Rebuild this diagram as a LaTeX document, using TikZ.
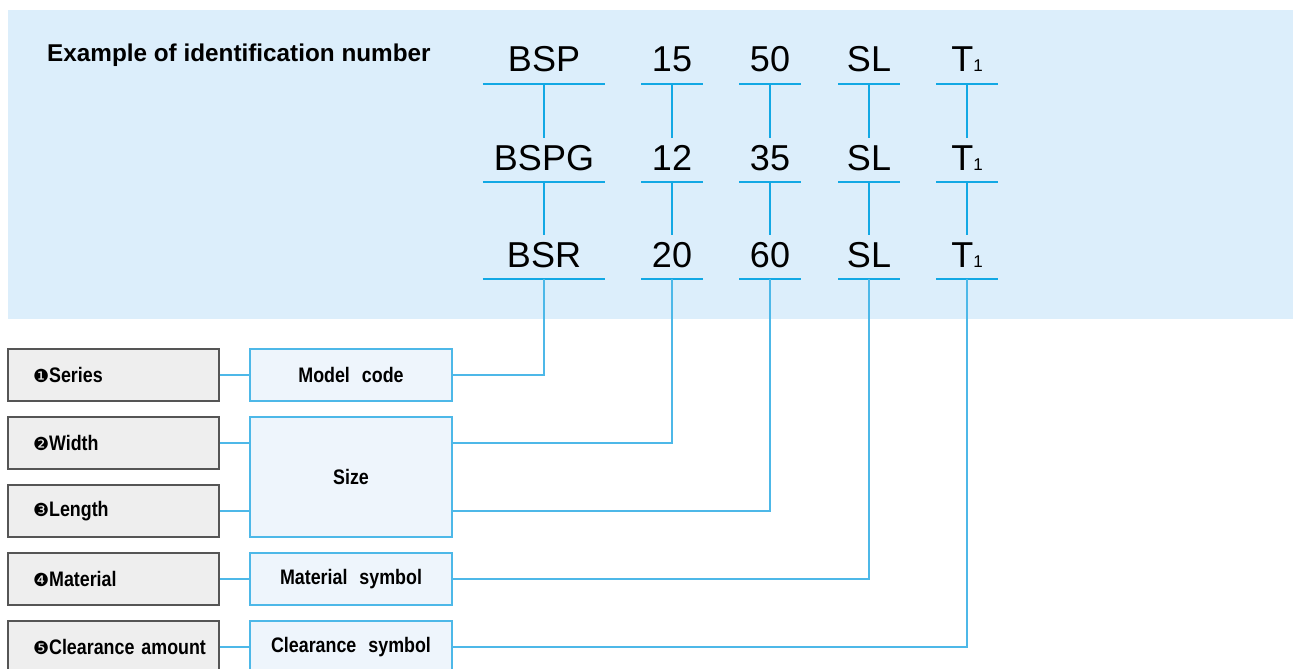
\documentclass[tikz,border=0pt]{standalone}
\usepackage{fontspec}
\setmainfont{Liberation Sans}
\newfontfamily\condfont[FakeStretch=0.85]{Liberation Sans}
\newfontfamily\dingfont{DejaVu Sans}
\usepackage{xcolor}
\definecolor{paleblue}{HTML}{DCEEFB}
\definecolor{cyanline}{HTML}{12A8E4}
\definecolor{cyanedge}{HTML}{4DB8E8}
\definecolor{boxgray}{HTML}{EEEEEE}
\definecolor{boxblue}{HTML}{EEF5FC}
\definecolor{boxedge}{HTML}{555555}
\usetikzlibrary{positioning}

\newcommand{\bul}[1]{{\dingfont\mdseries\fontsize{18}{18}\selectfont#1}}
\newcommand{\smallidx}[1]{{\fontsize{17}{17}\selectfont#1}}
\DeclareRobustCommand{\boxfontsel}{\condfont\bfseries\fontsize{21}{21}\selectfont\spaceskip=12pt\relax}

\tikzset{
  idcode/.style={font=\fontsize{36}{36}\selectfont, inner sep=0pt,
    text height=32pt, text depth=12pt, minimum width=#1},
  idcode/.default=61pt,
  uline/.style={cyanline, line width=2.4pt},
  link/.style={cyanline, line width=1.3pt},
  boxlink/.style={cyanedge, line width=1.6pt},
  itembox/.style={font=\boxfontsel, draw=boxedge, fill=boxgray, line width=1.5pt,
    minimum height=52pt, inner xsep=0pt, text width=211pt, align=left,
    execute at begin node={\noindent\hspace*{25pt}}},
  symbox/.style={font=\boxfontsel, draw=cyanedge, fill=boxblue, line width=1.5pt,
    minimum width=202pt, minimum height=52pt}
}

\begin{document}
\begin{tikzpicture}[x=1pt, y=-1pt]
  \clip (0,0) rectangle (1293,669);
  \fill[white] (0,0) rectangle (1293,669);

  % Shaded band with the example numbers
  \fill[paleblue] (8,10) rectangle (1293,319);
  \node[font=\bfseries\fontsize{24.3}{24.3}\selectfont, anchor=base west, inner sep=0pt]
    (title) at (47,62) {Example of identification number};

  % First row
  \node[idcode=122pt, anchor=base] (bsp) at (544,72) {BSP};
  \node[idcode, anchor=base] (n15) at (672,72) {15};
  \node[idcode, anchor=base] (n50) at (770,72) {50};
  \node[idcode, anchor=base] (slA) at (869,72) {SL};
  \node[idcode, anchor=base] (tA) at (967,72) {T\smallidx{1}};

  % Second row
  \node[idcode=122pt, anchor=base] (bspg) at (544,170) {BSPG};
  \node[idcode, anchor=base] (n12) at (672,170) {12};
  \node[idcode, anchor=base] (n35) at (770,170) {35};
  \node[idcode, anchor=base] (slB) at (869,170) {SL};
  \node[idcode, anchor=base] (tB) at (967,170) {T\smallidx{1}};

  % Third row
  \node[idcode=122pt, anchor=base] (bsr) at (544,267) {BSR};
  \node[idcode, anchor=base] (n20) at (672,267) {20};
  \node[idcode, anchor=base] (n60) at (770,267) {60};
  \node[idcode, anchor=base] (slC) at (869,267) {SL};
  \node[idcode, anchor=base] (tC) at (967,267) {T\smallidx{1}};

  % Underlines
  \foreach \n in {bsp,n15,n50,slA,tA,bspg,n12,n35,slB,tB,bsr,n20,n60,slC,tC}
    \draw[uline] (\n.south west) -- (\n.south east);

  % Vertical links between rows
  \foreach \a/\b in {bsp/bspg,n15/n12,n50/n35,slA/slB,tA/tB,
                     bspg/bsr,n12/n20,n35/n60,slB/slC,tB/tC}
    \draw[link] (\a.south) -- (\b.north);

  % Item boxes
  \node[itembox] (series) at (113.5,375) {\bul{❶}Series};
  \node[itembox] (width) at (113.5,443) {\bul{❷}Width};
  \node[itembox] (length) at (113.5,511) {\bul{❸}Length};
  \node[itembox] (material) at (113.5,579) {\bul{❹}Material};
  \node[itembox] (clearance) at (113.5,647) {\bul{❺}Clearance amount};

  % Symbol boxes
  \node[symbox] (model) at (351,375) {Model code};
  \node[symbox, minimum height=120pt] (size) at (351,477) {Size};
  \node[symbox] (matsym) at (351,579) {Material symbol};
  \node[symbox] (clrsym) at (351,647) {Clearance symbol};

  % Item to symbol
  \draw[boxlink] (series.east) -- (model.west);
  \draw[boxlink] (width.east) -- (width.east -| size.west);
  \draw[boxlink] (length.east) -- (length.east -| size.west);
  \draw[boxlink] (material.east) -- (matsym.west);
  \draw[boxlink] (clearance.east) -- (clrsym.west);

  % Symbol to number
  \draw[boxlink] (model.east) -| (bsr.south);
  \draw[boxlink] (width.east -| size.east) -| (n20.south);
  \draw[boxlink] (length.east -| size.east) -| (n60.south);
  \draw[boxlink] (matsym.east) -| (slC.south);
  \draw[boxlink] (clrsym.east) -| (tC.south);
\end{tikzpicture}
\end{document}
